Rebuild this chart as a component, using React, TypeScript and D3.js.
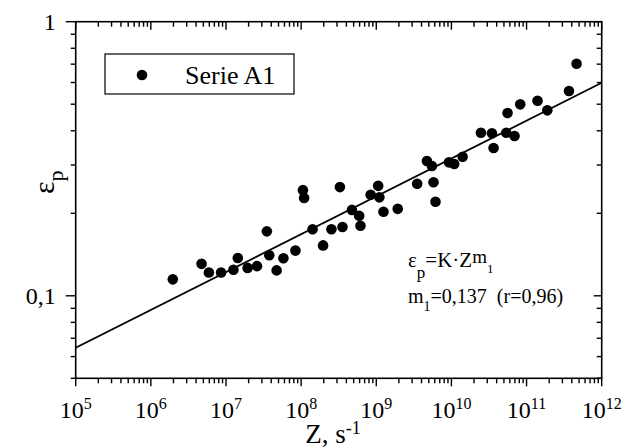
import React from "react";
import * as d3 from "d3";

// ---- data ----
const zValues = [
  1.96e6, 4.73e6, 5.92e6, 8.6e6, 1.256e7, 1.436e7, 1.94e7, 2.59e7, 3.5e7, 3.77e7,
  4.72e7, 5.81e7, 8.4e7, 1.057e8, 1.096e8, 1.42e8, 1.96e8, 2.53e8, 3.28e8, 3.55e8,
  4.75e8, 5.92e8, 6.16e8, 8.42e8, 1.06e9, 1.1e9, 1.247e9, 1.93e9, 3.5e9, 4.72e9,
  5.5e9, 5.78e9, 6.14e9, 9.27e9, 1.09e10, 1.41e10, 2.47e10, 3.46e10, 3.64e10, 5.37e10,
  6.92e10, 5.58e10, 8.24e10, 1.4e11, 1.89e11, 3.67e11, 4.63e11,
];
const epsValues = [
  0.1148, 0.1308, 0.1216, 0.1216, 0.1244, 0.1373, 0.1264, 0.1283, 0.1718, 0.1405,
  0.1238, 0.137, 0.1462, 0.2429, 0.2273, 0.1749, 0.1527, 0.1749, 0.2492, 0.1782,
  0.2058, 0.1959, 0.18, 0.2336, 0.2518, 0.2286, 0.2025, 0.2076, 0.2561, 0.3101,
  0.2974, 0.2596, 0.2203, 0.3068, 0.3024, 0.3216, 0.3935, 0.3915, 0.346, 0.3935,
  0.3827, 0.4642, 0.4995, 0.5149, 0.4749, 0.5584, 0.7024,
];
const fitZ = [1e5, 1e12];
const fitEps = [0.0646, 0.599];
const xExponents = [5, 6, 7, 8, 9, 10, 11, 12];
const yLabelValues = [1, 0.1];
const yLabelTexts = ["1", "0,1"];
const seriesName = "Serie A1";

const W = 631;
const H = 448;
const FONT = '"Liberation Serif", "DejaVu Serif", "Times New Roman", Times, serif';

export default function App() {
  const x = d3.scaleLog().domain([1e5, 1e12]).range([75.7, 601.7]);
  const y = d3.scaleLog().domain([0.05, 1]).range([378.3, 21.7]);
  const [x0, x1] = x.range();
  const [y0, y1] = y.range();

  const xTicks: { v: number; major: boolean }[] = [];
  for (let e = 5; e < 12; e++) {
    for (let k = 1; k <= 9; k++) xTicks.push({ v: k * Math.pow(10, e), major: k === 1 });
  }
  xTicks.push({ v: 1e12, major: true });

  const yTicks: { v: number; major: boolean }[] = [];
  for (let k = 5; k <= 9; k++) yTicks.push({ v: k / 100, major: false });
  for (let k = 1; k <= 9; k++) yTicks.push({ v: k / 10, major: k === 1 });
  yTicks.push({ v: 1, major: true });

  const line = d3
    .line<number>()
    .x((_, i) => x(fitZ[i]))
    .y((d) => y(d));

  const ts = { fontFamily: FONT } as React.CSSProperties;

  return (
    <svg
      width={W}
      height={H}
      style={{ position: "absolute", left: 0, top: 0, background: "#fff", fontFamily: FONT }}
    >
      <rect x={0} y={0} width={W} height={H} fill="#fff" />
      {/* frame */}
      <rect x={x0} y={y1} width={x1 - x0} height={y0 - y1} fill="none" stroke="#000" strokeWidth={1.6} />
      {/* x ticks bottom (outward) & top (inward, downward) */}
      {xTicks.map((t, i) => (
        <g key={"xt" + i}>
          <line x1={x(t.v)} x2={x(t.v)} y1={y0} y2={y0 + (t.major ? 8 : 5)} stroke="#000" strokeWidth={1.4} />
          <line x1={x(t.v)} x2={x(t.v)} y1={y1} y2={y1 + (t.major ? 8 : 5)} stroke="#000" strokeWidth={1.4} />
        </g>
      ))}
      {/* y ticks left (outward) & right (inward, leftward) */}
      {yTicks.map((t, i) => (
        <g key={"yt" + i}>
          <line x1={x0} x2={x0 - (t.major ? 10 : 5)} y1={y(t.v)} y2={y(t.v)} stroke="#000" strokeWidth={1.4} />
          <line x1={x1} x2={x1 - (t.major ? 8 : 5)} y1={y(t.v)} y2={y(t.v)} stroke="#000" strokeWidth={1.4} />
        </g>
      ))}
      {/* x tick labels */}
      {xExponents.map((e) => (
        <text key={"xl" + e} style={ts} x={x(Math.pow(10, e))} y={418} textAnchor="middle" fontSize={24}>
          10<tspan dy={-9} fontSize={16}>{e}</tspan>
        </text>
      ))}
      {/* y tick labels */}
      {yLabelValues.map((v, i) => (
        <text key={"yl" + i} style={ts} x={x0 - 20} y={y(v) + 8} textAnchor="end" fontSize={24}>
          {yLabelTexts[i]}
        </text>
      ))}
      {/* axis titles */}
      <text style={ts} x={333} y={443} textAnchor="middle" fontSize={27}>
        Z, s<tspan dy={-9} fontSize={18}>-1</tspan>
      </text>
      <text style={ts} transform="translate(54,194) rotate(-90)" fontSize={30}>
        ε<tspan dy={9} fontSize={22}>p</tspan>
      </text>
      {/* fit line */}
      <path d={line(fitEps) || ""} fill="none" stroke="#000" strokeWidth={1.8} />
      {/* points */}
      {zValues.map((z, i) => (
        <circle key={"p" + i} cx={x(z)} cy={y(epsValues[i])} r={5.3} fill="#000" />
      ))}
      {/* legend */}
      <rect x={105} y={54} width={189} height={40} fill="#fff" stroke="#000" strokeWidth={1.2} />
      <circle cx={142} cy={75} r={5.3} fill="#000" />
      <text style={ts} x={185} y={84} fontSize={26}>
        {seriesName}
      </text>
      {/* equation */}
      <text style={ts} x={408} y={267} fontSize={21}>
        ε<tspan dy={11} fontSize={17}>p</tspan>
        <tspan dy={-11}>=K·Z</tspan>
        <tspan dy={-4} fontSize={19}>m</tspan>
        <tspan dy={10} fontSize={13}>1</tspan>
      </text>
      <text style={ts} x={408} y={303} fontSize={20}>
        m<tspan dy={8} fontSize={14}>1</tspan>
        <tspan dy={-8}>{"=0,137\u00a0\u00a0(r=0,96)"}</tspan>
      </text>
    </svg>
  );
}
